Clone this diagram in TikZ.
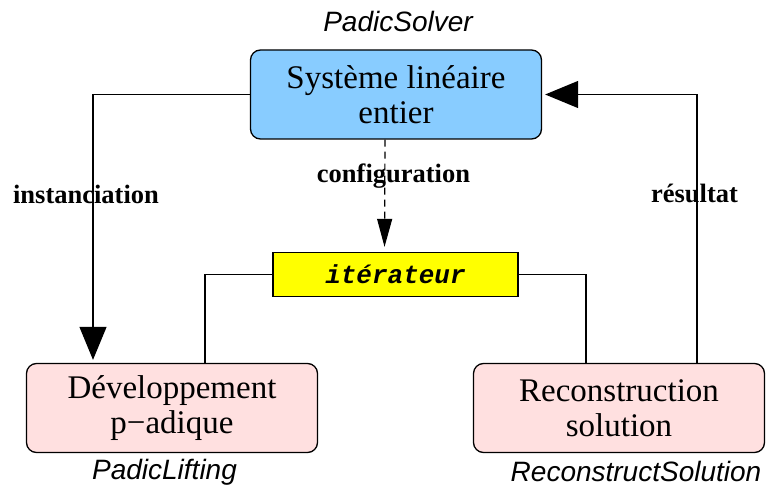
\documentclass[tikz,border=0pt]{standalone}
\usepackage{fontspec}
\setmainfont{Liberation Serif}
\setsansfont{Liberation Sans}
\setmonofont{Liberation Mono}
\usetikzlibrary{arrows.meta}
\definecolor{topblue}{RGB}{136,204,255}
\definecolor{boxpink}{RGB}{255,224,224}
\definecolor{iteryellow}{RGB}{255,255,0}
\tikzset{
  bigbox/.style={draw=black, line width=1.3pt, rounded corners=10pt, minimum width=291pt, minimum height=89pt, inner sep=0pt, align=center, font=\fontsize{33}{35}\selectfont},
  iterbox/.style={draw=black, line width=1.3pt, fill=iteryellow, minimum width=245pt, minimum height=44pt, inner sep=0pt, font=\fontsize{26}{28}\selectfont\ttfamily\bfseries\itshape},
  conn/.style={line width=1.2pt, black},
  arr/.style={conn, -{Triangle[length=33pt,width=27pt]}, shorten >=3pt},
  darr/.style={conn, dash pattern=on 7pt off 5pt, -{Triangle[length=28pt,width=15pt]}, shorten >=5pt},
  edgelabel/.style={anchor=base, inner sep=0pt, font=\fontsize{26.5}{28}\selectfont\bfseries},
  classlabel/.style={anchor=base, inner sep=0pt, font=\fontsize{28}{30}\selectfont\sffamily\itshape}
}
\begin{document}
\begin{tikzpicture}[x=1pt,y=-1pt]
\useasboundingbox (0,0) rectangle (768,489);
\node[bigbox, fill=topblue] (top) at (396,94.5) {Système linéaire\\entier};
\node[bigbox, fill=boxpink] (left) at (172,408) {Développement\\p−adique};
\node[bigbox, fill=boxpink] (right) at (619,408) {Reconstruction\\solution};
\node[iterbox] (iter) at (395.5,274.5) {itérateur};
\node[classlabel] (lsolver) at (398,32) {PadicSolver};
\node[classlabel] (llift) at (164.5,479) {PadicLifting};
\node[classlabel] (lrecon) at (636,481) {ReconstructSolution};
\draw[arr] (top.west) -| ([xshift=-79pt]left.north);
\draw[arr] ([xshift=78pt]right.north) |- (top.east);
\draw[darr] ([xshift=-11pt]top.south) -- ([xshift=-11pt]iter.north);
\draw[conn] (iter.west) -| ([xshift=33pt]left.north);
\draw[conn] (iter.east) -| ([xshift=-33pt]right.north);
\node[edgelabel] (linst) at (86,204) {instanciation};
\node[edgelabel] (lconf) at (393.5,183) {configuration};
\node[edgelabel] (lres) at (694.5,203) {résultat};
\end{tikzpicture}
\end{document}
